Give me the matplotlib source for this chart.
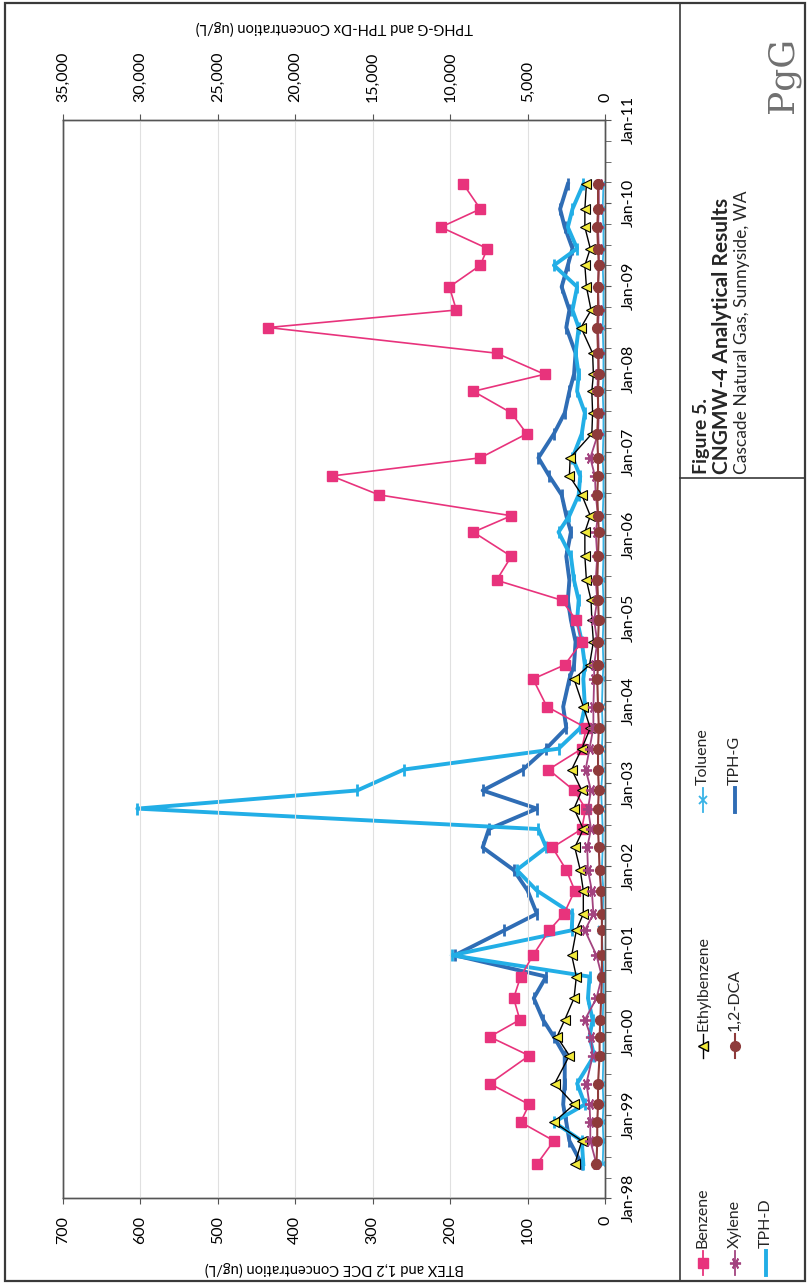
import matplotlib
matplotlib.use('Agg')
import matplotlib.pyplot as plt
from matplotlib.lines import Line2D
import pandas as pd

# sample dates (quarterly monitoring, CNGMW-4)
sample_dates = ['1998-05-30', '1998-09-10', '1998-12-01', '1999-02-17', '1999-05-20', '1999-09-20',
                '1999-12-12', '2000-02-25', '2000-05-30', '2000-09-02', '2000-12-05', '2001-03-25',
                '2001-06-06', '2001-09-16', '2001-12-16', '2002-03-25', '2002-06-14', '2002-09-12',
                '2002-12-01', '2003-03-03', '2003-06-03', '2003-09-02', '2003-12-05', '2004-04-05',
                '2004-06-06', '2004-09-16', '2004-12-20', '2005-03-18', '2005-06-14', '2005-09-27',
                '2006-01-12', '2006-03-25', '2006-06-25', '2006-09-16', '2006-12-05', '2007-03-21',
                '2007-06-21', '2007-09-24', '2007-12-08', '2008-03-10', '2008-07-01', '2008-09-16',
                '2008-12-27', '2009-04-01', '2009-06-14', '2009-09-16', '2009-12-05', '2010-03-25']

# BTEX and 1,2-DCA (ug/L)
benzene = [88, 66, 109, 98, 149, 98, 149, 110, 118, 109, 93, 72, 53, 39, 50, 68, 30, 25, 40, 73,
           30, 24, 75, 93, 52, 30, 37, 56, 140, 121, 170, 121, 292, 353, 161, 101, 121, 170, 78, 140,
           435, 192, 201, 161, 152, 212, 161, 183]
ethylbenzene = [39, 30, 66, 40, 65, 46, 62, 52, 40, 37, 43, 37, 28, 28, 32, 39, 28, 40, 30, 43,
                30, 19, 28, 40, 20, 15, 17, 18, 24, 26, 26, 19, 30, 46, 45, 17, 16, 17, 15, 16,
                31, 18, 24, 26, 19, 26, 26, 24]
toluene = [3, 2, 3, 2, 3, 2, 2, 3, 2, 2, 3, 4, 3, 2, 4, 3, 3, 4, 5, 3, 4, 3, 4, 3,
           2, 3, 2, 2, 3, 2, 2, 3, 2, 2, 3, 2, 2, 3, 2, 2, 3, 2, 2, 3, 2, 2, 3, 2]
xylene = [11, 19, 19, 20, 24, 16, 18, 26, 11, 4, 11, 26, 15, 17, 22, 23, 18, 22, 18, 25,
          20, 15, 15, 14, 14, 10, 14, 10, 12, 10, 12, 9, 12, 13, 19, 9, 8, 10, 9, 8,
          9, 8, 9, 8, 8, 9, 8, 8]
dca = [11, 10, 10, 9, 9, 7, 7, 6, 5, 4, 4, 4, 4, 5, 7, 8, 9, 9, 8, 9, 9, 8, 9, 10,
       9, 9, 8, 9, 10, 9, 8, 9, 10, 9, 9, 10, 9, 9, 8, 9, 10, 9, 9, 8, 9, 10, 9, 9]

# TPH (ug/L)
tph_g = [1500, 2300, 2500, 2700, 2600, 2600, 3300, 4000, 4600, 3800, 9700, 6500, 4400, 5000, 5900, 7900,
         7500, 4400, 7900, 5300, 3800, 2500, 2700, 2300, 2000, 1900, 2200, 2400, 2300, 2500, 2200, 2500,
         2800, 3600, 4300, 3300, 2600, 2300, 2000, 1900, 2500, 2300, 2800, 2400, 2100, 2600, 2900, 2400]
tph_d = [1400, 1500, 3300, 1300, 1800, 700, 1000, 800, 1100, 1000, 9900, 2150, 2100, 4400, 5700, 3800,
         4300, 30200, 16000, 13000, 3000, 1600, 1300, 1400, 1300, 1500, 1800, 1700, 2000, 2200, 3000, 2300,
         1700, 1600, 2100, 1500, 1300, 1800, 1700, 1900, 1700, 2100, 1800, 3300, 1800, 2400, 2100, 1400]

btex_ticks = list(range(0, 701, 100))
tph_ticks = list(range(0, 35001, 5000))
year_ticks = pd.date_range('1998-01-01', '2011-01-01', freq='YS')

plt.rcParams['font.family'] = ['Lato', 'DejaVu Sans']

W, H = 809, 1285
fig = plt.figure(figsize=(W / 100, H / 100), dpi=100)
fig.patch.set_facecolor('white')

def fx(px):
    return px / W

def fy(py):
    return 1 - py / H

dates = pd.to_datetime(sample_dates)

# page is turned on its side: concentration runs right->left, time runs up
ax = fig.add_axes([fx(63), fy(1198), fx(605) - fx(63), fy(120) - fy(1198)])
ax2 = ax.twiny()
ax.set_zorder(ax2.get_zorder() + 1)
ax.patch.set_visible(False)

ax2.plot(tph_g, dates, color='#2f6db5', lw=2.8, marker='|', ms=9, mew=2, zorder=3)
ax2.plot(tph_d, dates, color='#22aee6', lw=2.8, marker='|', ms=9, mew=2, zorder=4)

ax.plot(benzene, dates, color='#e8337c', lw=1.2, marker='s', ms=6.5)
ax.plot(toluene, dates, color='#38b3e6', lw=1.3, marker='x', ms=6, mew=1.3)
ax.plot(ethylbenzene, dates, color='black', lw=1.0, marker='<', ms=7,
        mfc='#f2ea3c', mec='black', mew=0.8)
ax.plot(xylene, dates, color='#a3437f', lw=1.3, marker=(6, 2, 90), ms=8, mew=1.3)
ax.plot(dca, dates, color='#8e3b3b', lw=1.5, marker='o', ms=7)

ax.set_xlim(700, 0)
ax2.set_xlim(35000, 0)
ax.set_ylim(pd.Timestamp('1998-01-01'), pd.Timestamp('2011-01-01'))

ax.grid(axis='x', color='#e0e0e0', lw=0.8)
ax.set_axisbelow(True)

for a in (ax, ax2):
    for s in a.spines.values():
        s.set_color('#555555')
        s.set_linewidth(1.0)

ax.set_xticks(btex_ticks, [str(v) for v in btex_ticks], rotation=90, va='top', ha='center')
ax2.set_xticks(tph_ticks, [f'{v:,}' for v in tph_ticks], rotation=90, va='bottom', ha='center')
ax.tick_params(axis='x', direction='out', length=4, pad=9, labelsize=11.5, color='#555555')
ax2.tick_params(axis='x', direction='out', length=4, pad=9, labelsize=11.5, color='#555555')

ax.yaxis.tick_right()
ax.set_yticks(year_ticks, [d.strftime('%b-%y') for d in year_ticks], rotation=90, va='center')
ax.set_yticks(pd.date_range('1998-01-01', '2011-01-01', freq='QS'), minor=True)
ax.tick_params(axis='y', which='both', direction='out', length=4, color='#555555')
ax.tick_params(axis='y', which='major', pad=8, labelsize=11.5)

ax.set_xlabel('BTEX and 1,2 DCE Concentration (ug/L)', rotation=180, fontsize=10.5, labelpad=12)
ax2.set_xlabel('TPHG-G and TPH-Dx Concentration (ug/L)', rotation=180, fontsize=10.5, labelpad=14)

# page frame and title block
frame_c = '#3a3a3a'
fig.add_artist(plt.Rectangle((fx(5), fy(1281)), fx(805) - fx(5), fy(3) - fy(1281),
                             fill=False, ec=frame_c, lw=1.6, transform=fig.transFigure))
fig.add_artist(Line2D([fx(680), fx(680)], [fy(3), fy(1281)], color=frame_c, lw=1.2))
fig.add_artist(Line2D([fx(680), fx(805)], [fy(478), fy(478)], color=frame_c, lw=1.2))

fig.text(fx(702), fy(474), 'Figure 5.', rotation=90, ha='center', va='bottom',
         fontsize=14, fontweight='bold', color='#262626')
fig.text(fx(722), fy(474), 'CNGMW-4 Analytical Results', rotation=90, ha='center', va='bottom',
         fontsize=15, fontweight='bold', color='#262626')
fig.text(fx(742), fy(474), 'Cascade Natural Gas, Sunnyside, WA', rotation=90, ha='center',
         va='bottom', fontsize=12.5, color='#262626')
fig.text(fx(783), fy(75), 'PgG', rotation=90, ha='center', va='center', fontsize=26,
         family='DejaVu Serif', color='#707070')

# legend, drawn by hand because the whole sheet is turned
legend_items = [
    (703, 1263, 'Benzene', dict(color='#e8337c', marker='s', ms=6.5, lw=1.3)),
    (703, 1046, 'Ethylbenzene', dict(color='black', marker='<', ms=7, mfc='#f2ea3c', mec='black', lw=1.0)),
    (703, 800, 'Toluene', dict(color='#38b3e6', marker='x', ms=6, mew=1.3, lw=1.3)),
    (735, 1263, 'Xylene', dict(color='#a3437f', marker=(6, 2, 90), ms=8, mew=1.3, lw=1.3)),
    (735, 1046, '1,2-DCA', dict(color='#8e3b3b', marker='o', ms=7, lw=1.5)),
    (735, 800, 'TPH-G', dict(color='#2f6db5', lw=2.8)),
    (766, 1263, 'TPH-D', dict(color='#22aee6', lw=2.8)),
]
for x, y, label, style in legend_items:
    fig.add_artist(Line2D([fx(x)] * 3, [fy(y + 12), fy(y), fy(y - 12)], markevery=[1], **style))
    fig.text(fx(x), fy(y - 15), label, rotation=90, ha='center', va='bottom', fontsize=11.5,
             color='#262626')

fig.savefig('out.png', dpi=100)
